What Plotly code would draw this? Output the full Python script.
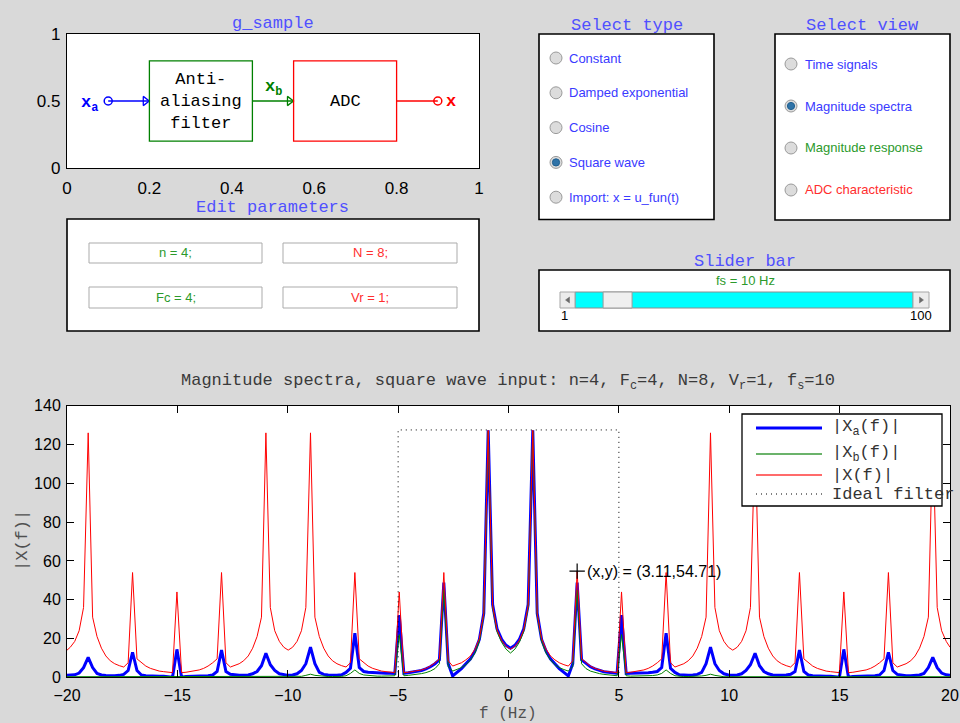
import numpy as np
import plotly.graph_objects as go

W, H = 960, 723

# ---------------------------------------------------------------- data
# parameters of the sampling chain
n_order, fc, n_bits, vr, fs = 4, 4, 8, 1, 10

type_options = ["Constant", "Damped exponential", "Cosine", "Square wave", "Import: x = u_fun(t)"]
type_selected = 3
view_options = ["Time signals", "Magnitude spectra", "Magnitude response", "ADC characteristic"]
view_selected = 1

# frequency samples (Hz): uniform grid through the 3.11 Hz bin, plus the window edges
F_STEP = 0.2014
freq = np.concatenate(([-20.0], np.round(3.11 + F_STEP * np.arange(-114, 84), 2), [20.0]))

# |Xa(f)| : analog input spectrum
xa_mag = [
    1.0,
    1.0, 1.3, 2.2, 5.0,
    10.3, 5.0, 2.0, 1.2, 0.9, 0.8, 0.8, 1.0, 1.5, 3.5,
    12.9, 3.5, 1.2, 0.8, 0.6, 0.5, 0.5, 0.5, 0.4, 0.0,
    14.4, 0.0, 0.4, 0.5, 0.5, 0.5, 0.6, 0.8, 1.2, 3.0,
    14.0, 3.0, 1.6, 1.2, 1.0, 1.0, 1.2, 1.8, 3.0, 6.0,
    12.4, 6.5, 3.5, 1.8, 1.2, 1.0, 1.2, 1.8, 3.5, 7.0,
    15.5, 7.0, 2.5, 1.5, 1.2, 1.0, 1.0, 1.3, 2.5, 4.6,
    22.7, 5.0, 3.0, 2.6, 2.4, 2.3, 2.2, 2.1, 2.1, 2.0,
    32.0, 2.0, 2.3, 2.6, 2.9, 3.5, 4.3, 5.4, 7.0, 9.0,
    48.8, 7.0, 0.7, 2.5, 4.5, 7.0, 9.5, 13.5, 19.5, 33.0,
    127.3, 37.5, 25.0, 19.5, 16.5, 15.0, 16.5, 19.5, 25.0, 37.5,
    127.3, 33.0, 19.5, 13.5, 9.5, 7.0, 4.5, 2.5, 0.7, 7.0,
    48.8, 9.0, 7.0, 5.4, 4.3, 3.5, 2.9, 2.6, 2.3, 2.0,
    32.0, 2.0, 2.1, 2.1, 2.2, 2.3, 2.4, 2.6, 3.0, 5.0,
    22.7, 4.6, 2.5, 1.3, 1.0, 1.0, 1.2, 1.5, 2.5, 7.0,
    15.5, 7.0, 3.5, 1.8, 1.2, 1.0, 1.2, 1.8, 3.5, 6.5,
    12.4, 6.0, 3.0, 1.8, 1.2, 1.0, 1.0, 1.2, 1.6, 3.0,
    14.0, 3.0, 1.2, 0.8, 0.6, 0.5, 0.5, 0.5, 0.4, 0.0,
    14.4, 0.0, 0.4, 0.5, 0.5, 0.5, 0.6, 0.8, 1.2, 3.5,
    12.9, 3.5, 1.5, 1.0, 0.8, 0.8, 0.9, 1.2, 2.0, 5.0,
    10.3, 5.0, 2.2, 1.3,
    1.0,
]

# |Xb(f)| : spectrum after the anti-aliasing filter
xb_mag = [
    0.3,
    0.3, 0.3, 0.3, 0.3,
    0.3, 0.3, 0.3, 0.3, 0.3, 0.3, 0.3, 0.3, 0.3, 0.3,
    0.4, 0.3, 0.3, 0.3, 0.3, 0.3, 0.3, 0.3, 0.3, 0.3,
    0.4, 0.3, 0.3, 0.3, 0.3, 0.3, 0.3, 0.3, 0.3, 0.3,
    0.4, 0.3, 0.3, 0.3, 0.3, 0.3, 0.3, 0.3, 0.3, 0.4,
    0.6, 0.4, 0.3, 0.3, 0.3, 0.3, 0.3, 0.3, 0.5, 1.0,
    1.6, 1.0, 0.7, 0.5, 0.4, 0.4, 0.4, 0.5, 0.8, 2.0,
    3.8, 2.0, 1.2, 0.9, 0.7, 0.6, 0.6, 0.6, 0.6, 0.8,
    22.0, 0.8, 1.0, 1.2, 1.5, 1.9, 2.4, 3.2, 4.5, 7.0,
    45.0, 5.5, 3.2, 4.0, 5.0, 6.5, 9.0, 12.5, 18.5, 32.0,
    126.8, 36.0, 23.5, 18.0, 14.5, 12.5, 14.5, 18.0, 23.5, 36.0,
    126.8, 32.0, 18.5, 12.5, 9.0, 6.5, 5.0, 4.0, 3.2, 5.5,
    45.0, 7.0, 4.5, 3.2, 2.4, 1.9, 1.5, 1.2, 1.0, 0.8,
    22.0, 0.8, 0.6, 0.6, 0.6, 0.6, 0.7, 0.9, 1.2, 2.0,
    3.8, 2.0, 0.8, 0.5, 0.4, 0.4, 0.4, 0.5, 0.7, 1.0,
    1.6, 1.0, 0.5, 0.3, 0.3, 0.3, 0.3, 0.3, 0.3, 0.4,
    0.6, 0.4, 0.3, 0.3, 0.3, 0.3, 0.3, 0.3, 0.3, 0.3,
    0.4, 0.3, 0.3, 0.3, 0.3, 0.3, 0.3, 0.3, 0.3, 0.3,
    0.4, 0.3, 0.3, 0.3, 0.3, 0.3, 0.3, 0.3, 0.3, 0.3,
    0.4, 0.3, 0.3, 0.3, 0.3, 0.3, 0.3, 0.3, 0.3, 0.3,
    0.3, 0.3, 0.3, 0.3,
    0.3,
]

# |X(f)| : spectrum of the sampled signal (periodic in fs)
x_mag = [
    14.0,
    15.5, 18.5, 24.0, 36.0,
    126.0, 31.0, 21.0, 15.0, 11.0, 8.5, 7.0, 6.0, 5.3, 7.5,
    54.0, 9.5, 7.5, 5.8, 4.6, 3.8, 3.2, 2.9, 2.6, 2.4,
    44.0, 2.4, 2.6, 2.9, 3.2, 3.8, 4.6, 5.8, 7.5, 9.5,
    54.0, 7.5, 5.3, 6.0, 7.0, 8.5, 11.0, 15.0, 21.0, 31.0,
    126.0, 36.0, 24.0, 18.5, 15.5, 14.0, 15.5, 18.5, 24.0, 36.0,
    126.0, 31.0, 21.0, 15.0, 11.0, 8.5, 7.0, 6.0, 5.3, 7.5,
    54.0, 9.5, 7.5, 5.8, 4.6, 3.8, 3.2, 2.9, 2.6, 2.4,
    44.0, 2.4, 2.6, 2.9, 3.2, 3.8, 4.6, 5.8, 7.5, 9.5,
    54.0, 8.5, 5.8, 6.5, 7.5, 9.0, 11.0, 14.5, 20.0, 33.0,
    127.3, 37.0, 24.5, 19.0, 16.0, 14.5, 16.0, 19.0, 24.5, 37.0,
    127.3, 33.0, 20.0, 14.5, 11.0, 9.0, 7.5, 6.5, 5.8, 8.5,
    54.71, 9.5, 7.5, 5.8, 4.6, 3.8, 3.2, 2.9, 2.6, 2.4,
    44.0, 2.4, 2.6, 2.9, 3.2, 3.8, 4.6, 5.8, 7.5, 9.5,
    54.0, 7.5, 5.3, 6.0, 7.0, 8.5, 11.0, 15.0, 21.0, 31.0,
    126.0, 36.0, 24.0, 18.5, 15.5, 14.0, 15.5, 18.5, 24.0, 36.0,
    126.0, 31.0, 21.0, 15.0, 11.0, 8.5, 7.0, 6.0, 5.3, 7.5,
    54.0, 9.5, 7.5, 5.8, 4.6, 3.8, 3.2, 2.9, 2.6, 2.4,
    44.0, 2.4, 2.6, 2.9, 3.2, 3.8, 4.6, 5.8, 7.5, 9.5,
    54.0, 7.5, 5.3, 6.0, 7.0, 8.5, 11.0, 15.0, 21.0, 31.0,
    126.0, 36.0, 24.0, 18.5,
    15.5,
]

# ideal low-pass filter outline (cut-off at fs/2)
ideal_f = [-fs / 2, -fs / 2, fs / 2, fs / 2]
ideal_mag = [0, 127.5, 127.5, 0]

# data tip on |X(f)|
tip_index = int(np.argmin(np.abs(freq - 3.11)))

x_ticks = [-20, -15, -10, -5, 0, 5, 10, 15, 20]
y_ticks = [0, 20, 40, 60, 80, 100, 120, 140]
diag_x_ticks = [0, 0.2, 0.4, 0.6, 0.8, 1]
diag_x_text = ["0", "0.2", "0.4", "0.6", "0.8", "1"]
diag_y_ticks = [0, 0.5, 1]
diag_y_text = ["0", "0.5", "1"]

# ---------------------------------------------------------------- styling
BG = "#d9d9d9"
SANS = "Liberation Sans"
MONO = "Liberation Mono"
TITLE_BLUE = "#5050ff"
TXT_BLUE = "#3a3aff"
TXT_GREEN = "#2c9a2c"
TXT_RED = "#ff2e2e"

shapes = []
annotations = []


def px(x):
    return x / W


def py(y):
    return 1 - y / H


def rect(x0, y0, x1, y1, line="black", fill="white", width=1.0):
    shapes.append(dict(type="rect", xref="paper", yref="paper",
                       x0=px(x0), x1=px(x1), y0=py(y1), y1=py(y0),
                       line=dict(color=line, width=width), fillcolor=fill, layer="above"))


def circle(cx, cy, r, line, fill, width=1.0):
    shapes.append(dict(type="circle", xref="paper", yref="paper",
                       x0=px(cx - r), x1=px(cx + r), y0=py(cy + r), y1=py(cy - r),
                       line=dict(color=line, width=width), fillcolor=fill, layer="above"))


def tri(points, color):
    path = "M " + " L ".join(f"{px(a):.5f},{py(b):.5f}" for a, b in points) + " Z"
    shapes.append(dict(type="path", xref="paper", yref="paper", path=path,
                       line=dict(color=color, width=0.5), fillcolor=color, layer="above"))


def hline(x0, x1, y, color, width, dash="solid"):
    shapes.append(dict(type="line", xref="paper", yref="paper",
                       x0=px(x0), x1=px(x1), y0=py(y), y1=py(y),
                       line=dict(color=color, width=width, dash=dash), layer="above"))


def label(x, y, s, size, color, family=SANS, xanchor="center", yanchor="middle", **kw):
    annotations.append(dict(x=px(x), y=py(y), xref="paper", yref="paper", text=s,
                            showarrow=False, xanchor=xanchor, yanchor=yanchor,
                            font=dict(family=family, size=size, color=color), **kw))


fig = go.Figure()

# ---------------------------------------------------------------- block diagram (top left)
diag = dict(xaxis="x2", yaxis="y2", showlegend=False, hoverinfo="skip", mode="lines")
fig.add_trace(go.Scatter(x=[0.1, 0.2], y=[0.5, 0.5], line=dict(color="blue", width=1.3), **diag))
fig.add_trace(go.Scatter(x=[0.45, 0.55], y=[0.5, 0.5], line=dict(color="green", width=1.3), **diag))
fig.add_trace(go.Scatter(x=[0.8, 0.9], y=[0.5, 0.5], line=dict(color="red", width=1.3), **diag))
fig.add_trace(go.Scatter(x=[0.1], y=[0.5], mode="markers", xaxis="x2", yaxis="y2", showlegend=False,
                         marker=dict(symbol="circle-open", size=8, color="blue", line=dict(width=1.5))))
fig.add_trace(go.Scatter(x=[0.9], y=[0.5], mode="markers", xaxis="x2", yaxis="y2", showlegend=False,
                         marker=dict(symbol="circle-open", size=8, color="red", line=dict(width=1.5))))
fig.add_trace(go.Scatter(x=[0.19], y=[0.5], mode="markers", xaxis="x2", yaxis="y2", showlegend=False,
                         marker=dict(symbol="triangle-right-open", size=8, color="blue", line=dict(width=1.3))))
fig.add_trace(go.Scatter(x=[0.54], y=[0.5], mode="markers", xaxis="x2", yaxis="y2", showlegend=False,
                         marker=dict(symbol="triangle-right-open", size=8, color="green", line=dict(width=1.3))))

shapes.append(dict(type="rect", xref="x2", yref="y2", x0=0.2, x1=0.45, y0=0.2, y1=0.8,
                   line=dict(color="green", width=1.3), layer="above"))
shapes.append(dict(type="rect", xref="x2", yref="y2", x0=0.55, x1=0.8, y0=0.2, y1=0.8,
                   line=dict(color="red", width=1.3), layer="above"))
for txt, xx, yy, col, xa in [
    ("Anti-<br>aliasing<br>filter", 0.325, 0.5, "black", "center"),
    ("ADC", 0.675, 0.5, "black", "center"),
    ("<b>x<sub>a</sub></b>", 0.08, 0.48, "blue", "right"),
    ("<b>x<sub>b</sub></b>", 0.5, 0.6, "green", "center"),
    ("<b>x</b>", 0.915, 0.5, "red", "left"),
]:
    annotations.append(dict(x=xx, y=yy, xref="x2", yref="y2", text=txt, showarrow=False,
                            xanchor=xa, yanchor="middle",
                            font=dict(family=MONO, size=17, color=col)))

label(273, 23, "g_sample", 17, TITLE_BLUE, MONO)

# ---------------------------------------------------------------- radio-button panels
def radio(cx, cy, on):
    circle(cx, cy, 6, "#9a9a9a", "#dcdcdc", 1)
    if on:
        circle(cx, cy, 3.6, "#1f5f8f", "#2f73a8", 1)


rect(539, 34, 714, 219.5, width=1.6)
label(627, 26, "Select type", 17, TITLE_BLUE, MONO)
for i, name in enumerate(type_options):
    yy = 58 + i * 34.8
    radio(556, yy, i == type_selected)
    label(567, yy, name, 13, TXT_BLUE, xanchor="left")

rect(775, 34, 950, 220, width=1.6)
label(862, 26, "Select view", 17, TITLE_BLUE, MONO)
view_colors = [TXT_BLUE, TXT_BLUE, TXT_GREEN, TXT_RED]
for i, name in enumerate(view_options):
    yy = 64 + i * 42
    radio(791, yy, i == view_selected)
    label(803, yy, name, 13, view_colors[i], xanchor="left")

# ---------------------------------------------------------------- parameter edit boxes
rect(67, 219, 479, 331, width=1.6)
label(272, 208, "Edit parameters", 17, TITLE_BLUE, MONO)
edit_boxes = [
    (89, 243, 262, 263, f"n = {n_order};", TXT_GREEN),
    (283, 243, 457, 263, f"N = {n_bits};", TXT_RED),
    (89, 287, 262, 308, f"Fc = {fc};", TXT_GREEN),
    (283, 287, 457, 308, f"Vr = {vr};", TXT_RED),
]
for x0, y0, x1, y1, s, col in edit_boxes:
    rect(x0, y0, x1, y1, line="#ababab", fill="white", width=1)
    label((x0 + x1) / 2, (y0 + y1) / 2, s, 13, col)

# ---------------------------------------------------------------- slider
rect(539, 270, 950, 331, width=1.6)
label(745, 261, "Slider bar", 17, TITLE_BLUE, MONO)
label(745, 281, f"fs = {fs} Hz", 13, TXT_GREEN)
trough_x0, trough_x1, thumb_w = 575, 913, 29
rect(trough_x0, 292, trough_x1, 308, line="#8c8c8c", fill="#00ffff", width=1)
rect(560, 292, trough_x0, 308, line="#a6a6a6", fill="#ececec", width=1)
rect(trough_x1, 292, 929, 308, line="#a6a6a6", fill="#ececec", width=1)
thumb_x0 = trough_x0 + (fs - 1) / 99 * (trough_x1 - trough_x0 - thumb_w)
rect(thumb_x0, 292, thumb_x0 + thumb_w, 308, line="#9a9a9a", fill="#efefef", width=1)
tri([(569.5, 297), (569.5, 303), (565.5, 300)], "#6a6a6a")
tri([(919.5, 297), (919.5, 303), (923.5, 300)], "#6a6a6a")
label(564, 315, "1", 13, "black")
label(921, 315, "100", 13, "black")

# ---------------------------------------------------------------- spectra
main = dict(xaxis="x", yaxis="y", showlegend=False, hoverinfo="skip", mode="lines")
fig.add_trace(go.Scatter(x=freq, y=xa_mag, line=dict(color="#0000ff", width=3), **main))
fig.add_trace(go.Scatter(x=freq, y=xb_mag, line=dict(color="#008000", width=1), **main))
fig.add_trace(go.Scatter(x=freq, y=x_mag, line=dict(color="#ff0000", width=1), **main))
fig.add_trace(go.Scatter(x=ideal_f, y=ideal_mag, line=dict(color="black", width=1, dash="1px,4px"), **main))

tip_f, tip_v = float(freq[tip_index]), float(x_mag[tip_index])
fig.add_trace(go.Scatter(x=[tip_f], y=[tip_v], mode="markers", showlegend=False, hoverinfo="skip",
                         marker=dict(symbol="cross-thin-open", size=11, color="black",
                                     line=dict(width=1.2, color="black"))))
annotations.append(dict(x=tip_f, y=tip_v, xref="x", yref="y",
                        text=f"(x,y) = ({tip_f:.2f},{tip_v:.2f})", showarrow=False,
                        xanchor="left", yanchor="middle", xshift=8,
                        font=dict(family=SANS, size=16, color="black")))

# hand-drawn legend box
rect(742, 414, 942, 506, line="black", fill="white", width=1.3)
hline(756, 822, 428, "#0000ff", 3)
hline(756, 822, 454, "#3a9a3a", 1.3)
hline(756, 822, 475, "#ff3a3a", 1.3)
hline(756, 822, 494, "black", 1, dash="1px,4px")
LEG = "#333333"
label(830, 428, "|X<sub>a</sub>(f)|", 17, LEG, MONO, xanchor="left")
label(830, 454, "|X<sub>b</sub>(f)|", 17, LEG, MONO, xanchor="left")
label(830, 475, "|X(f)|", 17, LEG, MONO, xanchor="left")
label(830, 494, "Ideal filter", 17, LEG, MONO, xanchor="left")

title = (f"Magnitude spectra, square wave input: n={n_order}, F<sub>c</sub>={fc}, "
         f"N={n_bits}, V<sub>r</sub>={vr}, f<sub>s</sub>={fs}")
label(508, 382, title, 17, "#3a3a3a", MONO)
label(508, 714, "f (Hz)", 16, "#505050", MONO)
label(22, 541, "|X(f)|", 17, "#505050", MONO, textangle=-90)

axis_common = dict(showline=True, linecolor="black", linewidth=1, mirror="allticks",
                   showgrid=False, zeroline=False, ticks="inside", ticklen=7, tickwidth=1,
                   tickcolor="black", tickfont=dict(family=SANS, size=16, color="black"),
                   fixedrange=True, automargin=False)
diag_common = dict(showline=True, linecolor="black", linewidth=1.3, mirror=True,
                   showgrid=False, zeroline=False, ticks="", fixedrange=True, automargin=False,
                   tickfont=dict(family=SANS, size=17, color="black"))

fig.update_layout(
    width=W, height=H,
    margin=dict(l=0, r=0, t=0, b=0, pad=0, autoexpand=False),
    paper_bgcolor=BG, plot_bgcolor="white",
    showlegend=False,
    xaxis=dict(domain=[px(67), px(950)], range=[-20, 20], tickvals=x_ticks, anchor="y",
               ticklabelstandoff=3, **axis_common),
    yaxis=dict(domain=[py(677.3), py(405.7)], range=[0, 140], tickvals=y_ticks, anchor="x",
               ticklabelstandoff=2, **axis_common),
    xaxis2=dict(domain=[px(67), px(479)], range=[0, 1], tickvals=diag_x_ticks, ticktext=diag_x_text,
                anchor="y2", ticklabelstandoff=4, **diag_common),
    yaxis2=dict(domain=[py(168), py(34)], range=[0, 1], tickvals=diag_y_ticks, ticktext=diag_y_text,
                anchor="x2", ticklabelstandoff=2, **diag_common),
    shapes=shapes,
    annotations=annotations,
)

fig.write_html("out.html", config={"displayModeBar": False})
